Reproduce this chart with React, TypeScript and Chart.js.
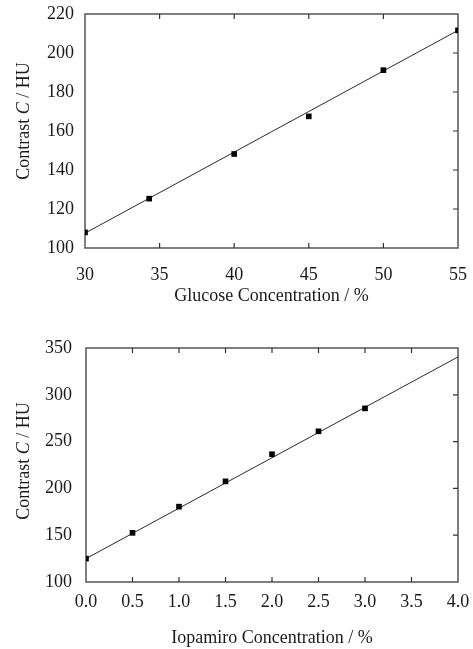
import React, { useEffect, useRef } from "react";
import { Chart, registerables } from "chart.js";

Chart.register(...registerables);

// ---- Data: Glucose panel ----
const glucoseX = [30, 34.3, 40, 45, 50, 55];
const glucoseY = [108, 125.3, 148.2, 167.5, 191.2, 211.6];
const glucoseFitX = [30, 55];
const glucoseFitY = [107.6, 211.6];
const glucoseXTicks = [30, 35, 40, 45, 50, 55];
const glucoseYTicks = [100, 120, 140, 160, 180, 200, 220];

// ---- Data: Iopamiro panel ----
const iopamiroX = [0, 0.5, 1.0, 1.5, 2.0, 2.5, 3.0];
const iopamiroY = [125, 152.5, 180.5, 207.5, 236.5, 261, 285.5];
const iopamiroFitX = [0, 4];
const iopamiroFitY = [125, 340.5];
const iopamiroXTicks = [0, 0.5, 1.0, 1.5, 2.0, 2.5, 3.0, 3.5, 4.0];
const iopamiroYTicks = [100, 150, 200, 250, 300, 350];

const glucoseXTitle = "Glucose Concentration / %";
const iopamiroXTitle = "Iopamiro Concentration / %";
const yTitleParts = [
  { text: "Contrast ", italic: false },
  { text: "C", italic: true },
  { text: " / HU", italic: false },
];

const FONT = "'Liberation Serif', 'Times New Roman', serif";
const TEXT = "#1a1a1a";
const FRAME = "#555555";

type Panel = {
  xs: number[];
  ys: number[];
  fitX: number[];
  fitY: number[];
  xTicks: number[];
  yTicks: number[];
  xTitle: string;
  decimals: number;
  canvasH: number;
  padTop: number;
  yAxisW: number;
  xAxisH: number;
  xTickPad: number;
  yTickPad: number;
  xTitlePad: number;
  yTitleX: number;
  yTitleY: number;
};

const panels: Panel[] = [
  {
    xs: glucoseX,
    ys: glucoseY,
    fitX: glucoseFitX,
    fitY: glucoseFitY,
    xTicks: glucoseXTicks,
    yTicks: glucoseYTicks,
    xTitle: glucoseXTitle,
    decimals: 0,
    canvasH: 320,
    padTop: 14,
    yAxisW: 85,
    xAxisH: 72,
    xTickPad: 16,
    yTickPad: 11,
    xTitlePad: 13,
    yTitleX: 24,
    yTitleY: 121,
  },
  {
    xs: iopamiroX,
    ys: iopamiroY,
    fitX: iopamiroFitX,
    fitY: iopamiroFitY,
    xTicks: iopamiroXTicks,
    yTicks: iopamiroYTicks,
    xTitle: iopamiroXTitle,
    decimals: 1,
    canvasH: 329,
    padTop: 28,
    yAxisW: 86,
    xAxisH: 67,
    xTickPad: 9,
    yTickPad: 14,
    xTitlePad: 0,
    yTitleX: 24,
    yTitleY: 141,
  },
];

const framePlugin = {
  id: "frameTicks",
  beforeDatasetsDraw(chart: any) {
    const { ctx, chartArea, scales } = chart;
    const { left, right, top, bottom } = chartArea;
    const tl = 5;
    ctx.save();
    ctx.strokeStyle = FRAME;
    ctx.lineWidth = 1.5;
    ctx.strokeRect(left, top, right - left, bottom - top);
    ctx.lineWidth = 1.2;
    ctx.strokeStyle = "#333";
    ctx.beginPath();
    scales.x.ticks.forEach((t: any, i: number) => {
      if (i === 0 || i === scales.x.ticks.length - 1) return;
      const px = scales.x.getPixelForValue(t.value);
      ctx.moveTo(px, bottom);
      ctx.lineTo(px, bottom - tl);
      ctx.moveTo(px, top);
      ctx.lineTo(px, top + tl);
    });
    scales.y.ticks.forEach((t: any, i: number) => {
      if (i === 0 || i === scales.y.ticks.length - 1) return;
      const py = scales.y.getPixelForValue(t.value);
      ctx.moveTo(right, py);
      ctx.lineTo(right - tl, py);
    });
    ctx.stroke();
    ctx.restore();
  },
};

const yTitlePlugin = {
  id: "yTitleMixed",
  afterDraw(chart: any, _args: any, opts: any) {
    const { ctx } = chart;
    ctx.save();
    ctx.translate(opts.x, opts.y);
    ctx.rotate(-Math.PI / 2);
    ctx.fillStyle = TEXT;
    ctx.textBaseline = "middle";
    ctx.textAlign = "left";
    const fonts = yTitleParts.map((p) => `${p.italic ? "italic " : ""}18px ${FONT}`);
    let total = 0;
    const widths = yTitleParts.map((p, i) => {
      ctx.font = fonts[i];
      const w = ctx.measureText(p.text).width;
      total += w;
      return w;
    });
    let cx = -total / 2;
    yTitleParts.forEach((p, i) => {
      ctx.font = fonts[i];
      ctx.fillText(p.text, cx, 0);
      cx += widths[i];
    });
    ctx.restore();
  },
};

function PanelChart({ p }: { p: Panel }) {
  const ref = useRef<HTMLCanvasElement>(null);
  useEffect(() => {
    if (!ref.current) return;
    const chart = new Chart(ref.current, {
      type: "scatter",
      data: {
        datasets: [
          {
            label: "measured",
            data: p.xs.map((x, i) => ({ x, y: p.ys[i] })),
            pointStyle: "rect",
            pointRadius: 4,
            pointBackgroundColor: "#000",
            pointBorderColor: "#000",
            pointBorderWidth: 0,
            showLine: false,
          },
          {
            label: "fit",
            data: p.fitX.map((x, i) => ({ x, y: p.fitY[i] })),
            showLine: true,
            borderColor: "#2a2a2a",
            borderWidth: 1,
            pointRadius: 0,
            fill: false,
          },
        ],
      },
      options: {
        responsive: false,
        animation: false,
        layout: { padding: { top: p.padTop, right: 15, left: 0, bottom: 0 } },
        plugins: {
          legend: { display: false },
          tooltip: { enabled: false },
          yTitleMixed: { x: p.yTitleX, y: p.yTitleY },
        } as any,
        scales: {
          x: {
            type: "linear",
            min: p.xTicks[0],
            max: p.xTicks[p.xTicks.length - 1],
            grid: { display: false, drawTicks: false },
            border: { display: false },
            afterBuildTicks: (s: any) => {
              s.ticks = p.xTicks.map((v) => ({ value: v }));
            },
            afterFit: (s: any) => {
              s.height = p.xAxisH;
              s.paddingLeft = 0;
              s.paddingRight = 0;
            },
            ticks: {
              padding: p.xTickPad,
              color: TEXT,
              font: { family: FONT, size: 18 },
              maxRotation: 0,
              autoSkip: false,
              callback: (v: any) => Number(v).toFixed(p.decimals),
            },
            title: {
              display: true,
              text: p.xTitle,
              color: TEXT,
              font: { family: FONT, size: 18 },
              padding: { top: 0, bottom: p.xTitlePad },
            },
          },
          y: {
            type: "linear",
            min: p.yTicks[0],
            max: p.yTicks[p.yTicks.length - 1],
            grid: { display: false, drawTicks: false },
            border: { display: false },
            afterBuildTicks: (s: any) => {
              s.ticks = p.yTicks.map((v) => ({ value: v }));
            },
            afterFit: (s: any) => {
              s.width = p.yAxisW;
              s.paddingTop = 0;
              s.paddingBottom = 0;
            },
            ticks: {
              padding: p.yTickPad,
              color: TEXT,
              font: { family: FONT, size: 18 },
              autoSkip: false,
              callback: (v: any) => String(v),
            },
          },
        },
      },
      plugins: [framePlugin, yTitlePlugin],
    });
    return () => chart.destroy();
  }, [p]);
  return (
    <canvas
      ref={ref}
      width={473}
      height={p.canvasH}
      style={{ display: "block", width: 473, height: p.canvasH }}
    />
  );
}

export default function App() {
  return (
    <div
      style={{
        position: "fixed",
        left: 0,
        top: 0,
        width: 473,
        height: 649,
        background: "#fff",
      }}
    >
      {panels.map((p, i) => (
        <PanelChart key={i} p={p} />
      ))}
    </div>
  );
}
